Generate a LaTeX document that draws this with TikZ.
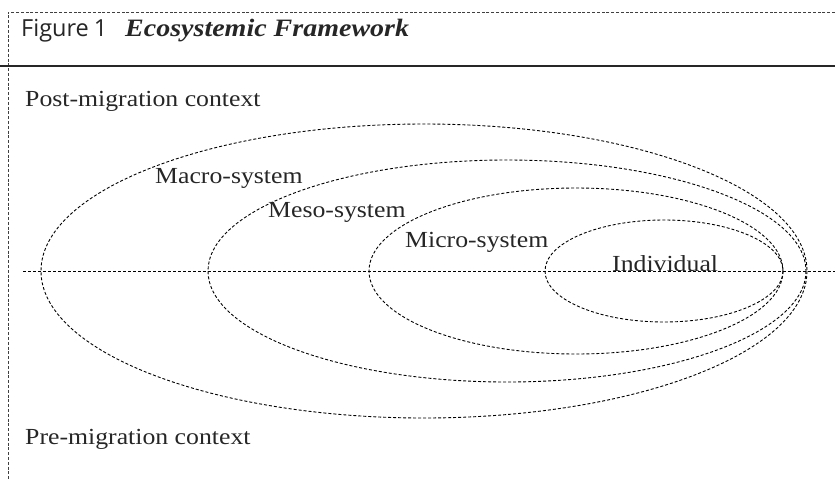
\documentclass[tikz,border=0pt]{standalone}
\usepackage{fontspec}
\setmainfont{Liberation Serif}[FakeStretch=1.12]
\newfontfamily\captionsans{Open Sans}
\usetikzlibrary{positioning}

\definecolor{ink}{gray}{0.15}

\tikzset{
  frameline/.style={draw=black!75, line width=0.9pt, dash pattern=on 3pt off 1.8pt},
  orbit/.style={draw=black, line width=0.9pt, dash pattern=on 3pt off 2pt},
  axisline/.style={draw=black, line width=0.9pt, dash pattern=on 3pt off 2pt},
  rule/.style={draw=black!85, line width=2pt},
  label/.style={anchor=base west, inner sep=0pt, text=ink, font=\fontsize{23}{26}\selectfont},
  headsans/.style={anchor=base west, inner sep=0pt, text=ink, font=\captionsans\fontsize{23.5}{26}\selectfont},
  headital/.style={anchor=base west, inner sep=0pt, text=ink, font=\fontsize{25}{28}\selectfont\bfseries\itshape}
}

\begin{document}
\begin{tikzpicture}[x=1pt, y=-1pt]
  \useasboundingbox (0,0) rectangle (835,480);

  % outer dashed frame (top and left only)
  \coordinate (ftl) at (8,12);
  \coordinate (ftr) at (835,12);
  \coordinate (fbl) at (8,480);
  \draw[frameline] (ftr) -- (ftl) -- (fbl);

  % heading
  \node[headsans] (fig) at (21,36) {Figure\hspace{5pt}1};
  \node[headital] (ttl) at (125,36) {Ecosystemic Framework};
  \coordinate (rl) at (0,66);
  \coordinate (rr) at (835,66);
  \draw[rule] (rl) -- (rr);

  % context labels
  \node[label] (post) at (25,106) {Post-migration context};
  \node[label] (pre) at (25,444) {Pre-migration context};

  % nested systems
  \draw[orbit] (424,271) ellipse [x radius=383, y radius=147];
  \draw[orbit] (507,271) ellipse [x radius=299, y radius=111];
  \draw[orbit] (576,271) ellipse [x radius=207, y radius=83];
  \draw[orbit] (664,271) ellipse [x radius=119, y radius=51];

  % dividing line between the two contexts
  \coordinate (axl) at (23,271);
  \coordinate (axr) at (835,271);
  \draw[axisline] (axl) -- (axr);

  % system labels
  \node[label] (macro) at (155,183) {Macro-system};
  \node[label] (meso) at (268,217) {Meso-system};
  \node[label] (micro) at (405,247) {Micro-system};
  \node[label] (indiv) at (612,271) {Individual};
\end{tikzpicture}
\end{document}
